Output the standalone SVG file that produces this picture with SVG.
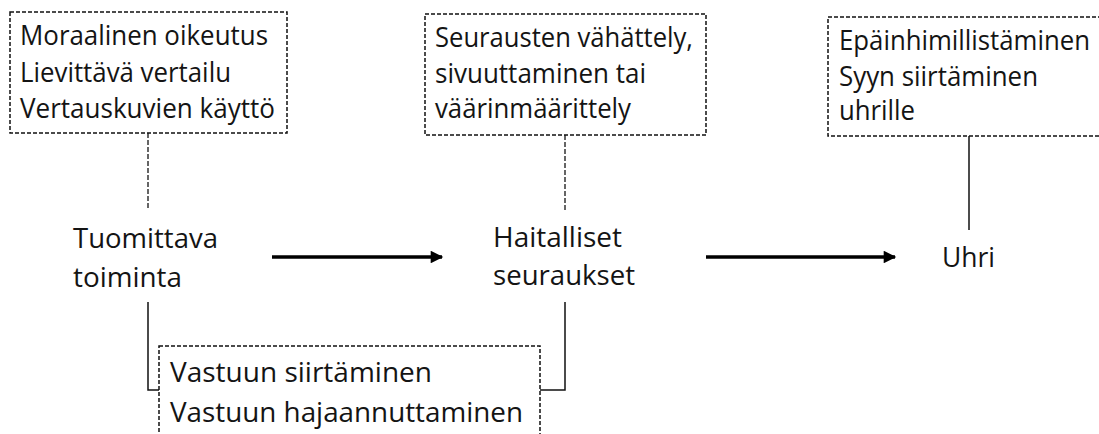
<svg xmlns="http://www.w3.org/2000/svg" width="1099" height="434" viewBox="0 0 1099 434">
<style>
.box{fill:#fff;stroke:#111;stroke-width:1.5;stroke-dasharray:4 2}
.t{font-family:"Open Sans","Noto Sans",sans-serif;font-size:27px;fill:#141414}
.dl{stroke:#333;stroke-width:1.5;stroke-dasharray:5 2;fill:none}
.sl{stroke:#111;stroke-width:1.5;fill:none}
.ar{stroke:#000;stroke-width:3.5;fill:none}
</style>
<defs>
<marker id="ah" viewBox="0 0 10 10" refX="9" refY="5" markerWidth="4" markerHeight="3.6" orient="auto" markerUnits="strokeWidth">
<path d="M0,0 L10,5 L0,10 z" fill="#000"/>
</marker>
</defs>
<rect width="1099" height="434" fill="#fff"/>
<g id="connectors">
<line class="dl" x1="148" y1="133" x2="148" y2="210"/>
<line class="dl" x1="565" y1="135" x2="565" y2="210"/>
<line class="sl" x1="969" y1="136" x2="969" y2="230" stroke="#444"/>
<polyline class="sl" points="148,302 148,390 159,390"/>
<polyline class="sl" points="565,302 565,390 540,390"/>
<line class="ar" x1="272" y1="257" x2="442" y2="257" marker-end="url(#ah)"/>
<line class="ar" x1="706" y1="257" x2="895" y2="257" marker-end="url(#ah)"/>
</g>
<g id="box1">
<rect class="box" x="10" y="12" width="277" height="121"/>
<text class="t" x="20" y="45" textLength="248" lengthAdjust="spacingAndGlyphs">Moraalinen oikeutus</text>
<text class="t" x="20" y="82" textLength="211" lengthAdjust="spacingAndGlyphs">Lievittävä vertailu</text>
<text class="t" x="20" y="118" textLength="255" lengthAdjust="spacingAndGlyphs">Vertauskuvien käyttö</text>
</g>
<g id="box2">
<rect class="box" x="425" y="14" width="281" height="121"/>
<text class="t" x="435" y="47" textLength="258" lengthAdjust="spacingAndGlyphs">Seurausten vähättely,</text>
<text class="t" x="435" y="83" textLength="211" lengthAdjust="spacingAndGlyphs">sivuuttaminen tai</text>
<text class="t" x="435" y="118" textLength="196" lengthAdjust="spacingAndGlyphs">väärinmäärittely</text>
</g>
<g id="box3">
<rect class="box" x="828" y="17" width="280" height="119"/>
<text class="t" x="839" y="50" textLength="251" lengthAdjust="spacingAndGlyphs">Epäinhimillistäminen</text>
<text class="t" x="839" y="86" textLength="199" lengthAdjust="spacingAndGlyphs">Syyn siirtäminen</text>
<text class="t" x="839" y="120" textLength="76" lengthAdjust="spacingAndGlyphs">uhrille</text>
</g>
<g id="box4">
<rect class="box" x="159" y="346" width="381" height="100"/>
<text class="t" x="170" y="382" textLength="262" lengthAdjust="spacingAndGlyphs">Vastuun siirtäminen</text>
<text class="t" x="170" y="422" textLength="353" lengthAdjust="spacingAndGlyphs">Vastuun hajaannuttaminen</text>
</g>
<g id="tuomittava">
<text class="t" x="73" y="248" textLength="145" lengthAdjust="spacingAndGlyphs">Tuomittava</text>
<text class="t" x="73" y="287" textLength="109" lengthAdjust="spacingAndGlyphs">toiminta</text>
</g>
<g id="haitalliset">
<text class="t" x="493" y="247" textLength="129" lengthAdjust="spacingAndGlyphs">Haitalliset</text>
<text class="t" x="493" y="285" textLength="142" lengthAdjust="spacingAndGlyphs">seuraukset</text>
</g>
<g id="uhri">
<text class="t" x="942" y="267" textLength="53" lengthAdjust="spacingAndGlyphs">Uhri</text>
</g>
</svg>
